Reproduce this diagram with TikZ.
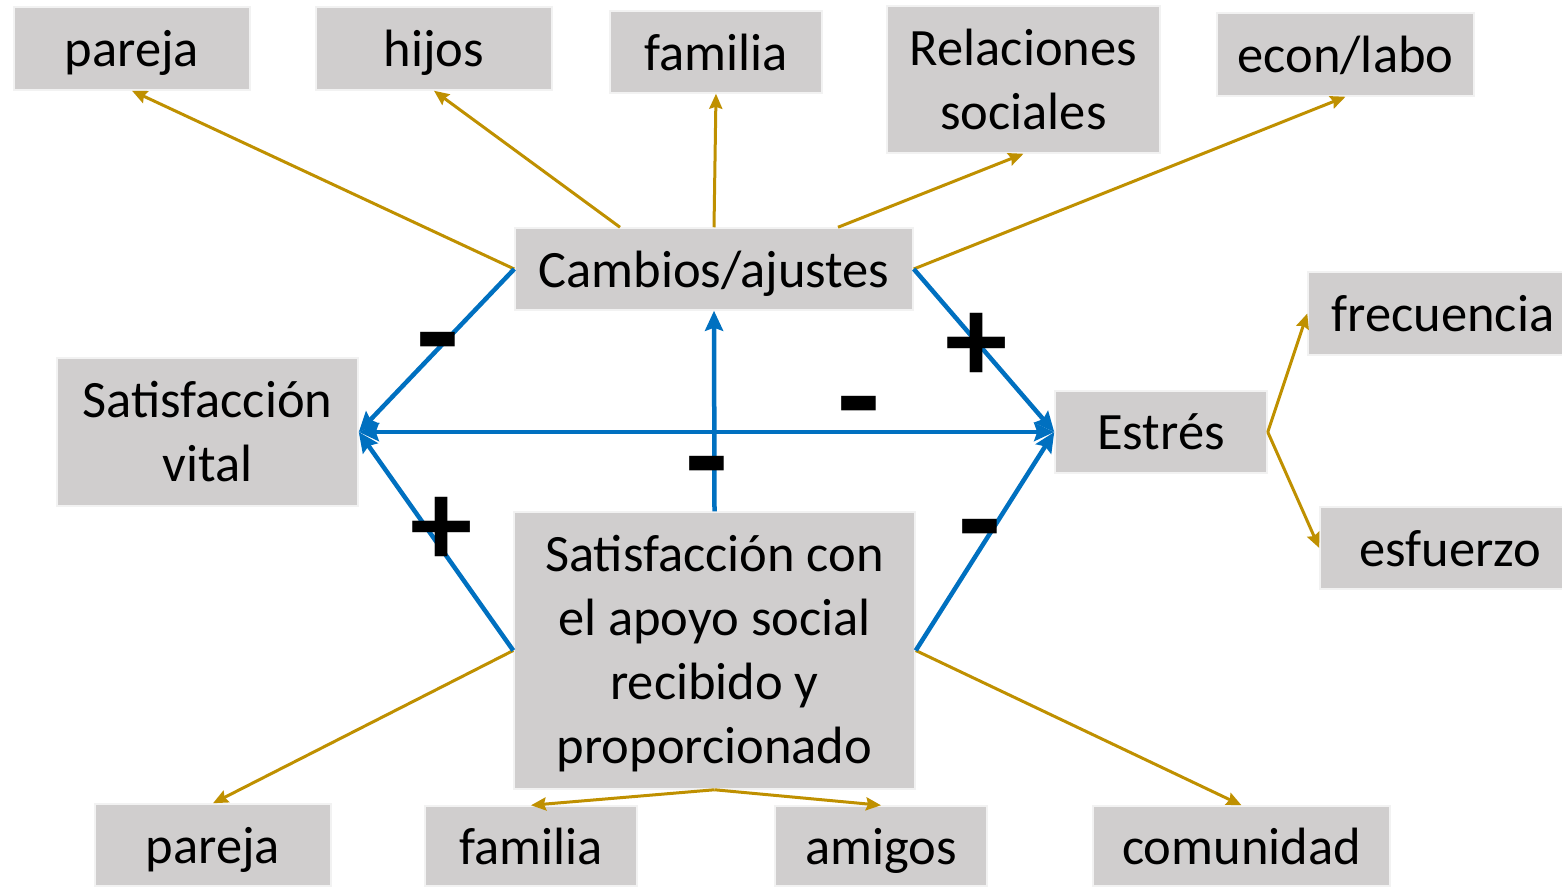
\documentclass[tikz,border=0pt]{standalone}
\usepackage{fontspec}
\setmainfont{Carlito}
\usetikzlibrary{arrows.meta}
\definecolor{boxgray}{HTML}{D0CECE}
\definecolor{boxedge}{HTML}{F2F2F2}
\definecolor{gold}{HTML}{BF9000}
\definecolor{blu}{HTML}{0070C0}
\tikzset{
  box/.style={fill=boxgray, draw=boxedge, line width=1.5pt, inner sep=0pt, align=center,
    font=\fontsize{52.5}{64}\selectfont, text=black},
  onebox/.style={box, text depth=0pt},
  goldarrow/.style={draw=gold, line width=3pt, -{Stealth[length=15pt,width=13pt,inset=2pt]}},
  bluearrow/.style={draw=blu, line width=4.5pt, -{Stealth[length=20pt,width=18pt,inset=3pt]}},
  bluedouble/.style={draw=blu, line width=4.5pt, {Stealth[length=20pt,width=18pt,inset=3pt]}-{Stealth[length=20pt,width=18pt,inset=3pt]}},
  minussign/.style={font=\fontsize{140}{140}\bfseries\selectfont, inner sep=0pt, text=black},
  plussign/.style={font=\fontsize{125}{125}\bfseries\selectfont, inner sep=0pt, text=black},
}
\begin{document}
\begin{tikzpicture}[x=1pt,y=-1pt]
\useasboundingbox (0,0) rectangle (1562,886);
% top row
\node[onebox, minimum width=236pt, minimum height=83pt] (pt) at (132,48.5) {pareja};
\node[onebox, minimum width=236pt, minimum height=83pt] (hi) at (434,48.5) {hijos};
\node[onebox, minimum width=212pt, minimum height=82pt] (ft) at (716,52) {familia};
\node[box, minimum width=273pt, minimum height=147pt] (rs) at (1023.5,79.5) {Relaciones\\sociales};
\node[onebox, minimum width=257pt, minimum height=83pt] (el) at (1345.5,54.5) {econ/labo};
% middle
\node[onebox, minimum width=398pt, minimum height=82pt] (ca) at (714,269) {Cambios/ajustes};
\node[onebox, minimum width=270pt, minimum height=83pt] (fr) at (1443,313.5) {frecuencia};
\node[box, minimum width=301pt, minimum height=148pt] (sv) at (207.5,432) {Satisfacción\\vital};
\node[onebox, minimum width=212pt, minimum height=82pt] (es) at (1161,432) {Estrés};
\node[onebox, minimum width=260pt, minimum height=82pt] (ef) at (1450,548) {esfuerzo};
\node[box, text depth=3pt, minimum width=401pt, minimum height=277pt] (sc) at (714.5,650.5) {Satisfacción con\\el apoyo social\\recibido y\\proporcionado};
% bottom row
\node[onebox, minimum width=236pt, minimum height=82pt] (pb) at (213,845) {pareja};
\node[onebox, minimum width=212pt, minimum height=80pt] (fb) at (531,846) {familia};
\node[onebox, minimum width=212pt, minimum height=80pt] (am) at (881,846) {amigos};
\node[onebox, minimum width=297pt, minimum height=80pt] (co) at (1241.5,846) {comunidad};
% gold connectors
\draw[goldarrow] (ca.west) -- (pt.south);
\draw[goldarrow] ([xshift=-94pt]ca.north) -- (hi.south);
\draw[goldarrow] (ca.north) -- (ft.south);
\draw[goldarrow] ([xshift=124pt]ca.north) -- (rs.south);
\draw[goldarrow] (ca.east) -- (el.south);
\draw[goldarrow] (es.east) -- (fr.west);
\draw[goldarrow] (es.east) -- (ef.west);
\draw[goldarrow] (sc.west) -- (pb.north);
\draw[goldarrow] (sc.south) -- (fb.north);
\draw[goldarrow] (sc.south) -- (am.north);
\draw[goldarrow] (sc.east) -- (co.north);
% blue connectors
\draw[bluearrow] (ca.west) -- (sv.east);
\draw[bluearrow] (sc.west) -- (sv.east);
\draw[bluedouble] (sv.east) -- (es.west);
\draw[bluearrow] (sc.north) -- (ca.south);
\draw[bluearrow] (ca.east) -- (es.west);
\draw[bluearrow] (sc.east) -- (es.west);
% signs
\node[minussign] (m1) at (438,356) {-};
\node[plussign] (p1) at (977,348) {+};
\node[minussign] (m2) at (859,420) {-};
\node[minussign] (m3) at (707,480) {-};
\node[plussign] (p2) at (442,532) {+};
\node[minussign] (m4) at (980,543) {-};
\end{tikzpicture}
\end{document}
